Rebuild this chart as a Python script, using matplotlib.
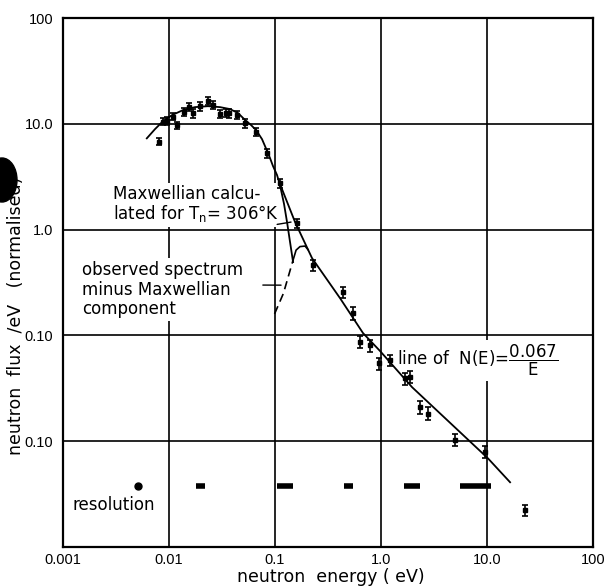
import matplotlib
matplotlib.use("Agg")
import matplotlib.pyplot as plt
from matplotlib.patches import Ellipse

plt.rcParams['font.family'] = ['DejaVu Sans']
plt.rcParams['mathtext.fontset'] = 'dejavusans'

# measured spectrum: energy (eV), flux per eV (normalised), relative error
energy = [0.0081, 0.0088, 0.0095, 0.0108, 0.0118, 0.0137, 0.0156, 0.0168, 0.0196,
          0.0235, 0.0262, 0.0303, 0.0345, 0.037, 0.044, 0.052, 0.066, 0.0835,
          0.111, 0.160, 0.230, 0.435, 0.548, 0.634, 0.787, 0.964, 1.22, 1.68,
          1.88, 2.33, 2.79, 4.99, 9.57, 22.8]
flux = [6.8, 10.5, 10.7, 11.7, 9.7, 13.0, 14.5, 12.6, 14.7,
        16.5, 15.1, 12.4, 12.7, 12.6, 12.1, 10.1, 8.4, 5.3,
        2.74, 1.15, 0.46, 0.259, 0.162, 0.087, 0.081, 0.0545, 0.0587, 0.0394,
        0.0408, 0.0212, 0.0183, 0.0103, 0.0080, 0.00224]
rel_err = [0.08, 0.08, 0.08, 0.08, 0.08, 0.09, 0.09, 0.09, 0.09,
           0.09, 0.09, 0.09, 0.09, 0.09, 0.09, 0.09, 0.09, 0.10,
           0.10, 0.10, 0.12, 0.12, 0.14, 0.13, 0.13, 0.13, 0.12, 0.13,
           0.13, 0.14, 0.14, 0.13, 0.14, 0.12]

# calculated Maxwellian, Tn = 306 K
maxw_energy = [0.00617, 0.00738, 0.00877, 0.01067, 0.01355, 0.01758, 0.02333, 0.03028,
               0.03758, 0.04477, 0.05212, 0.05939, 0.06622, 0.07535, 0.0835, 0.0897,
               0.0957, 0.1045, 0.1114, 0.1216, 0.1298, 0.1386, 0.148]
maxw_flux = [7.30, 8.93, 10.6, 12.1, 13.5, 14.4, 14.7, 14.4,
             13.8, 12.65, 10.9, 9.75, 8.74, 7.18, 5.65, 4.75,
             3.99, 3.28, 2.64, 1.75, 1.18, 0.763, 0.494]

# line drawn through the points above the thermal peak
fit_energy = [0.1114, 0.1545, 0.2233, 0.410, 0.676, 0.979, 1.96, 10.2, 16.5]
fit_flux = [2.70, 1.18, 0.539, 0.2256, 0.1054, 0.0713, 0.0325, 0.0069, 0.0041]

# observed spectrum minus Maxwellian component
resid_energy = [0.099, 0.12, 0.148]
resid_flux = [0.16, 0.25, 0.516]
arc_energy = [0.148, 0.158, 0.172, 0.192, 0.2047]
arc_flux = [0.516, 0.641, 0.692, 0.700, 0.648]

# energy resolution widths
res_lo = [0.0051, 0.018, 0.104, 0.45, 1.66, 5.5]
res_hi = [0.0051, 0.022, 0.147, 0.54, 2.33, 10.9]
res_level = 0.0038

xticks = [0.001, 0.01, 0.1, 1.0, 10.0, 100]
xticklabels = ['0.001', '0.01', '0.1', '1.0', '10.0', '100']
yticks = [0.01, 0.1, 1.0, 10.0, 100]
yticklabels = ['0.10', '0.10', '1.0', '10.0', '100']

tick_font = ['Liberation Sans', 'DejaVu Sans']

fig = plt.figure(figsize=(6.06, 5.87), dpi=100)
ax = fig.add_axes([0.104, 0.068, 0.8746, 0.9012])
ax.set_xscale('log')
ax.set_yscale('log')
ax.set_xlim(1e-3, 1e2)
ax.set_ylim(1e-3, 1e2)
ax.minorticks_off()
ax.set_xticks(xticks)
ax.set_xticklabels(xticklabels, family=tick_font, fontsize=10.5)
ax.set_yticks(yticks)
ax.set_yticklabels(yticklabels, family=tick_font, fontsize=10.5)
ax.tick_params(length=0, pad=4)
ax.tick_params(axis='y', pad=7)
for s in ax.spines.values():
    s.set_linewidth(1.6)

# grid: verticals under the label boxes, horizontals above
for x in xticks[1:-1]:
    ax.axvline(x, color='black', lw=1.2, zorder=1)
for y in yticks[:-1]:
    ax.axhline(y, color='black', lw=1.2, zorder=3)

ax.plot(maxw_energy, maxw_flux, color='black', lw=1.3, zorder=4)
ax.plot(fit_energy, fit_flux, color='black', lw=1.3, zorder=4)
ax.plot(resid_energy, resid_flux, color='black', lw=1.2, ls=(0, (5, 3)), zorder=4)
ax.plot(arc_energy, arc_flux, color='black', lw=1.2, zorder=4)

err = [f * r for f, r in zip(flux, rel_err)]
ax.errorbar(energy, flux, yerr=err, fmt='s', ms=3.5, color='black',
            elinewidth=1.2, capsize=2.5, capthick=1.2, zorder=5)

for lo, hi in zip(res_lo, res_hi):
    if hi > lo:
        ax.hlines(res_level, lo, hi, color='black', lw=4, zorder=4)
    else:
        ax.plot(lo, res_level, 'o', color='black', ms=5, zorder=4)

box = dict(facecolor='white', edgecolor='none', pad=2)
ax.text(0.0943, 0.684, 'Maxwellian calcu-\nlated for T$_\\mathrm{n}$= 306°K',
        transform=ax.transAxes, fontsize=12, va='top', ha='left',
        linespacing=1.0, bbox=box, zorder=2)
ax.annotate('', xy=(0.1416, 1.18), xytext=(0.404, 0.61), textcoords='axes fraction',
            arrowprops=dict(arrowstyle='-', lw=1.0, color='black',
                            shrinkA=0, shrinkB=0), zorder=4)

ax.text(0.0358, 0.5406, 'observed spectrum\nminus Maxwellian\ncomponent',
        transform=ax.transAxes, fontsize=12, va='top', ha='left',
        linespacing=1.1, bbox=box, zorder=2)
ax.annotate('', xy=(0.114, 0.299), xytext=(0.377, 0.4953), textcoords='axes fraction',
            arrowprops=dict(arrowstyle='-', lw=1.0, color='black',
                            shrinkA=0, shrinkB=0), zorder=4)

ax.text(0.630, 0.344, 'line of  N(E)=$\\dfrac{0.067}{\\mathrm{E}}$',
        transform=ax.transAxes, fontsize=12, va='baseline', ha='left',
        bbox=box, zorder=2)

ax.text(0.017, 0.0699, 'resolution', transform=ax.transAxes, fontsize=12,
        va='baseline', ha='left', zorder=2)

fig.text(331 / 606, 1 - 577 / 587, 'neutron  energy ( eV)', fontsize=12.5,
         ha='center', va='center')
fig.text(16 / 606, 1 - 316 / 587, 'neutron  flux  /eV   (normalised)', fontsize=12.5,
         ha='center', va='center', rotation=90)

# binder hole at the left margin
fig.patches.append(Ellipse((2 / 606, 1 - 180 / 587), 30 / 606, 44 / 587,
                           transform=fig.transFigure, color='black'))

fig.savefig('out.png', dpi=100)
